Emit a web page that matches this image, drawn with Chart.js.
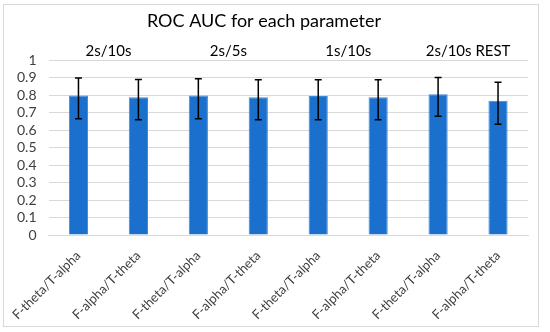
<!DOCTYPE html>
<html><head><meta charset="utf-8">
<script src="https://cdn.jsdelivr.net/npm/chart.js@4.4.1/dist/chart.umd.min.js"></script>
<style>html,body{margin:0;padding:0;background:#fff}#wrap{width:550px;height:332px}</style>
</head><body><div id="wrap"><canvas id="c" width="550" height="332"></canvas></div>
<script>
const categories = ['F-theta/T-alpha','F-alpha/T-theta','F-theta/T-alpha','F-alpha/T-theta','F-theta/T-alpha','F-alpha/T-theta','F-theta/T-alpha','F-alpha/T-theta'];
const groups = ['2s/10s','2s/5s','1s/10s','2s/10s REST'];
const aucValues = [0.80, 0.79, 0.80, 0.79, 0.797, 0.79, 0.806, 0.77];
const errUpper = [0.90, 0.891, 0.895, 0.889, 0.89, 0.89, 0.903, 0.876];
const errLower = [0.666, 0.66, 0.666, 0.66, 0.66, 0.66, 0.68, 0.634];
const yTicks = [0,0.1,0.2,0.3,0.4,0.5,0.6,0.7,0.8,0.9,1];

const FONT = 'Lato';
const TITLE_SIZE = 18, TITLE_PAD_TOP = 10;

const borderPlugin = {
  id: 'frame',
  beforeDraw(chart){
    const ctx = chart.ctx;
    ctx.save();
    ctx.fillStyle = '#fff';
    ctx.fillRect(0,0,chart.width,chart.height);
    ctx.strokeStyle = '#d9d9d9';
    ctx.lineWidth = 1;
    ctx.strokeRect(3.5, 4.5, 535, 322);
    ctx.restore();
  }
};
const errorBars = {
  id: 'errorBars',
  afterDatasetsDraw(chart){
    const ctx = chart.ctx, ys = chart.scales.y;
    const meta = chart.getDatasetMeta(0);
    ctx.save();
    ctx.strokeStyle = '#000';
    ctx.lineWidth = 1.5;
    meta.data.forEach((bar, i) => {
      const x = bar.x;
      const yh = ys.getPixelForValue(errUpper[i]);
      const yl = ys.getPixelForValue(errLower[i]);
      ctx.beginPath();
      ctx.moveTo(x, yh); ctx.lineTo(x, yl);
      ctx.moveTo(x-3.5, yh); ctx.lineTo(x+3.5, yh);
      ctx.moveTo(x-3.5, yl); ctx.lineTo(x+3.5, yl);
      ctx.stroke();
    });
    ctx.restore();
  }
};

new Chart(document.getElementById('c'), {
  type: 'bar',
  data: {
    labels: categories,
    datasets: [{
      data: aucValues,
      backgroundColor: '#1a70cc',
      borderColor: '#3f8ad8',
      borderWidth: 1,
      categoryPercentage: 1,
      barPercentage: 0.32,
      xAxisID: 'x'
    }]
  },
  options: {
    responsive: false,
    animation: false,
    devicePixelRatio: 1,
    layout: { padding: { left: 0, right: 22, top: 0, bottom: 0 } },
    plugins: {
      legend: { display: false },
      tooltip: { enabled: false },
      title: {
        display: true,
        text: 'ROC AUC for each parameter',
        color: '#000',
        font: { family: FONT, size: TITLE_SIZE, weight: 'normal' },
        padding: { top: TITLE_PAD_TOP, bottom: 0 }
      }
    },
    scales: {
      x: {
        position: 'bottom',
        grid: { display: false },
        border: { display: true, color: '#d9d9d9', width: 1 },
        ticks: {
          color: '#404040',
          font: { family: FONT, size: 13 },
          maxRotation: 45, minRotation: 45,
          padding: 5,
          autoSkip: false
        },
        afterFit(s){ s.height = 97; }
      },
      x2: {
        type: 'category',
        position: 'top',
        labels: groups,
        grid: { display: false, drawTicks: false },
        border: { display: false },
        ticks: { color: '#000', font: { family: FONT, size: 15 }, padding: 0, maxRotation: 0 },
        afterFit(s){ s.height = 60.5 - (TITLE_SIZE*1.2 + TITLE_PAD_TOP); }
      },
      y: {
        min: 0, max: 1,
        afterBuildTicks(s){ s.ticks = yTicks.map(v => ({value: v})); },
        grid: { color: '#d9d9d9', lineWidth: 1, drawTicks: false },
        border: { display: false },
        ticks: {
          color: '#404040',
          font: { family: FONT, size: 14 },
          padding: 12,
          autoSkip: false,
          callback: v => String(v)
        },
        afterFit(s){ s.width = 48.5; }
      }
    }
  },
  plugins: [borderPlugin, errorBars]
});
</script></body></html>
